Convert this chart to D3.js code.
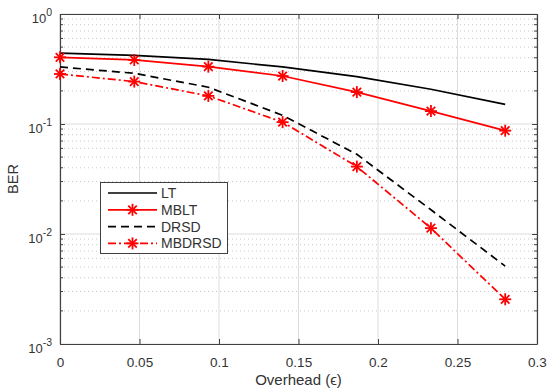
<!DOCTYPE html>
<html>
<head>
<meta charset="utf-8">
<script src="https://cdn.jsdelivr.net/npm/d3@7"></script>
<style>
  body { margin: 0; background: #fff; }
  svg { font-family: "Liberation Sans", Arial, sans-serif; }
</style>
</head>
<body>
<svg id="chart"></svg>
<script>
const overhead = [0, 0.0467, 0.0933, 0.14, 0.1867, 0.2333, 0.28];
const lt = [0.44, 0.42, 0.387, 0.33, 0.27, 0.207, 0.151];
const mblt = [0.404, 0.382, 0.332, 0.273, 0.195, 0.131, 0.087];
const drsd = [0.33, 0.289, 0.216, 0.12, 0.053, 0.0166, 0.0051];
const mbdrsd = [0.285, 0.243, 0.18, 0.104, 0.041, 0.0113, 0.00255];

const xTicks = [0, 0.05, 0.1, 0.15, 0.2, 0.25, 0.3];
const yDecades = [-3, -2, -1, 0];

const series = [
  { name: "LT", values: lt, color: "#000", dash: null, marker: false },
  { name: "MBLT", values: mblt, color: "#ff0000", dash: null, marker: true },
  { name: "DRSD", values: drsd, color: "#000", dash: "8,5", marker: false },
  { name: "MBDRSD", values: mbdrsd, color: "#ff0000", dash: "8,3,2,3", marker: true },
];

const width = 550;
const height = 392;
const padL = 60, padR = 537, padT = 14, padB = 344;
const axisColor = "#404040";
const textColor = "#333";

const svg = d3.select("#chart").attr("width", width).attr("height", height);

const xScale = d3.scaleLinear().domain([0, 0.3]).range([padL, padR]);
const yScale = d3.scaleLog().domain([1e-3, 1]).range([padB, padT]);

// grid
const minor = [];
yDecades.slice(0, -1).forEach((d) => {
  for (let k = 2; k <= 9; k++) minor.push(k * Math.pow(10, d));
});

svg.append("g")
  .selectAll("line")
  .data(minor)
  .enter()
  .append("line")
  .attr("x1", padL).attr("x2", padR)
  .attr("y1", (v) => yScale(v)).attr("y2", (v) => yScale(v))
  .style("stroke", "#c8c8c8")
  .style("stroke-width", 1)
  .style("stroke-dasharray", "1,3");

svg.append("g")
  .selectAll("line")
  .data(yDecades.map((d) => Math.pow(10, d)))
  .enter()
  .append("line")
  .attr("x1", padL).attr("x2", padR)
  .attr("y1", (v) => yScale(v)).attr("y2", (v) => yScale(v))
  .style("stroke", "#dcdcdc")
  .style("stroke-width", 1);

svg.append("g")
  .selectAll("line")
  .data(xTicks)
  .enter()
  .append("line")
  .attr("x1", (v) => xScale(v)).attr("x2", (v) => xScale(v))
  .attr("y1", padT).attr("y2", padB)
  .style("stroke", "#dcdcdc")
  .style("stroke-width", 1);

// axes (ticks inward, box on)
const xAxisB = d3.axisBottom(xScale).tickValues(xTicks).tickSizeInner(-5).tickSizeOuter(0)
  .tickPadding(13).tickFormat((v) => (v === 0 ? "0" : d3.format("")(+v.toFixed(2))));
const xAxisT = d3.axisTop(xScale).tickValues(xTicks).tickSizeInner(-5).tickSizeOuter(0).tickFormat("");
const yAxisL = d3.axisLeft(yScale).tickValues(yDecades.map((d) => Math.pow(10, d)))
  .tickSizeInner(-5).tickSizeOuter(0).tickFormat("");
const yAxisR = d3.axisRight(yScale).tickValues(yDecades.map((d) => Math.pow(10, d)))
  .tickSizeInner(-5).tickSizeOuter(0).tickFormat("");

const gxB = svg.append("g").attr("transform", `translate(0, ${padB})`).call(xAxisB);
const gxT = svg.append("g").attr("transform", `translate(0, ${padT})`).call(xAxisT);
const gyL = svg.append("g").attr("transform", `translate(${padL}, 0)`).call(yAxisL);
const gyR = svg.append("g").attr("transform", `translate(${padR}, 0)`).call(yAxisR);

// minor y ticks
[{ x: padL, dir: 1 }, { x: padR, dir: -1 }].forEach((s) => {
  svg.append("g")
    .selectAll("line")
    .data(minor)
    .enter()
    .append("line")
    .attr("x1", s.x).attr("x2", s.x + s.dir * 3)
    .attr("y1", (v) => yScale(v)).attr("y2", (v) => yScale(v))
    .style("stroke", axisColor)
    .style("stroke-width", 1);
});

[gxB, gxT, gyL, gyR].forEach((g) => {
  g.select(".domain").style("stroke", axisColor).style("stroke-width", 1.2);
  g.selectAll(".tick line").style("stroke", axisColor).style("stroke-width", 1);
});
gxB.selectAll("text").style("font-size", "13.5px").style("fill", textColor)
  .style("font-family", "Liberation Sans, Arial, sans-serif");

// y tick labels as 10^n
const yLab = svg.append("g");
yDecades.forEach((d) => {
  const t = yLab.append("text")
    .attr("x", padL - 8)
    .attr("y", yScale(Math.pow(10, d)) + 9)
    .attr("text-anchor", "end")
    .style("font-size", "13px")
    .style("fill", textColor);
  t.append("tspan").text("10");
  t.append("tspan").attr("dy", -7).style("font-size", "10.5px").text(d === 0 ? "0" : `-${-d}`);
});

// axis labels
svg.append("text")
  .attr("transform", `translate(${(padL + padR) / 2}, 385)`)
  .attr("text-anchor", "middle")
  .style("font-size", "15px")
  .style("fill", textColor)
  .text("Overhead (ϵ)");

svg.append("text")
  .attr("transform", `translate(18, ${(padT + padB) / 2}) rotate(-90)`)
  .attr("text-anchor", "middle")
  .style("font-size", "14.5px")
  .style("fill", textColor)
  .text("BER");

// lines
const line = d3.line().x((d) => xScale(d[0])).y((d) => yScale(d[1]));

const asterisk = (g, x, y, color) => {
  const r = 6;
  const a = r * Math.SQRT1_2;
  [[-r, 0, r, 0], [0, -r, 0, r], [-a, -a, a, a], [-a, a, a, -a]].forEach((s) => {
    g.append("line")
      .attr("x1", x + s[0]).attr("y1", y + s[1])
      .attr("x2", x + s[2]).attr("y2", y + s[3])
      .style("stroke", color)
      .style("stroke-width", 1.8);
  });
};

series.forEach((s) => {
  const pts = overhead.map((x, i) => [x, s.values[i]]);
  svg.append("path")
    .datum(pts)
    .attr("d", line)
    .style("fill", "none")
    .style("stroke", s.color)
    .style("stroke-width", 1.7)
    .style("stroke-dasharray", s.dash);
  if (s.marker) {
    const g = svg.append("g");
    pts.forEach((p) => asterisk(g, xScale(p[0]), yScale(p[1]), s.color));
  }
});

// legend
const legend = svg.append("g");
legend.append("rect")
  .attr("x", 100.5).attr("y", 182.5)
  .attr("width", 127).attr("height", 71)
  .style("fill", "#fff")
  .style("stroke", axisColor)
  .style("stroke-width", 1);

series.forEach((s, i) => {
  const y = 193 + i * 16.8;
  legend.append("line")
    .attr("x1", 108).attr("x2", 157)
    .attr("y1", y).attr("y2", y)
    .style("stroke", s.color)
    .style("stroke-width", 1.7)
    .style("stroke-dasharray", s.dash);
  if (s.marker) asterisk(legend, 132.5, y, s.color);
  legend.append("text")
    .attr("x", 161)
    .attr("y", y + 5)
    .style("font-size", "14px")
    .style("fill", textColor)
    .text(s.name);
});
</script>
</body>
</html>
